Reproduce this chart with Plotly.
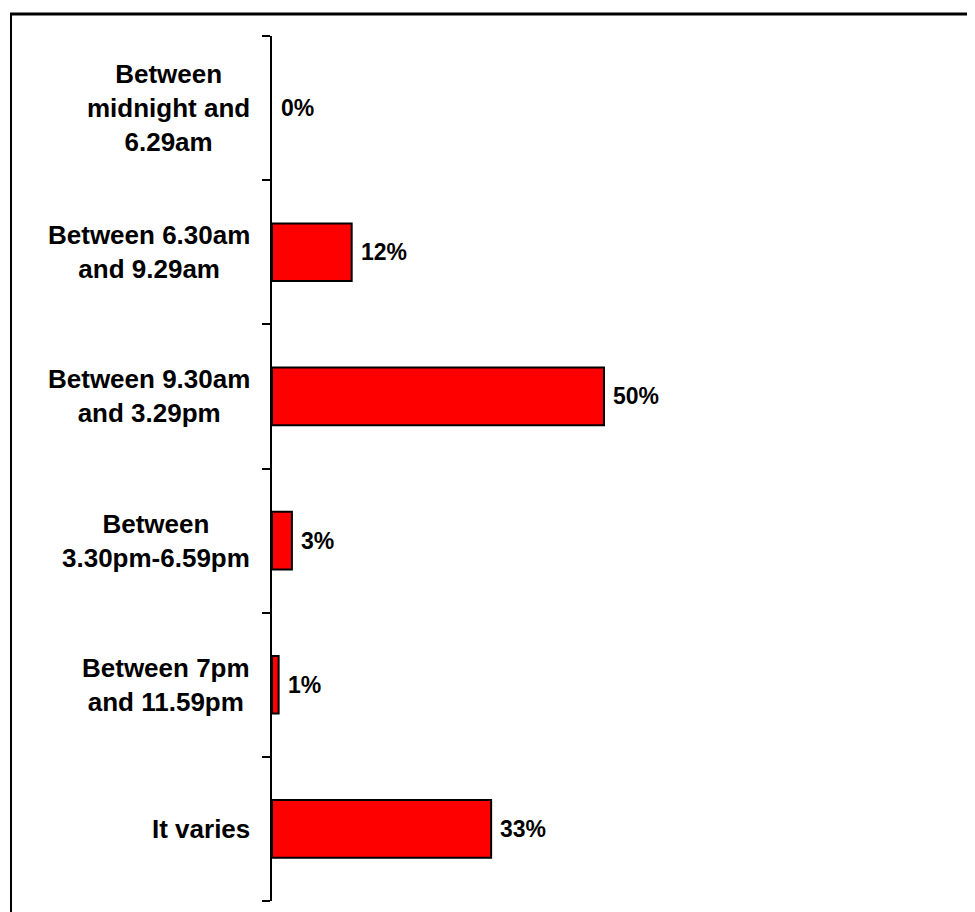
import plotly.graph_objects as go

categories = [
    "Between<br>midnight and<br>6.29am",
    "Between 6.30am<br>and 9.29am",
    "Between 9.30am<br>and 3.29pm",
    "Between<br>3.30pm-6.59pm",
    "Between 7pm<br>and 11.59pm",
    "It varies",
]
values = [0, 12, 50, 3, 1, 33]
value_labels = [f"{v}%" for v in values]

# page body has an 8px margin; positions below are in page pixels minus OFF
OFF = 8
W, H = 975 - OFF, 912 - OFF
L, R, T = 272 - OFF, 3, 36 - OFF
B = H - (901 - OFF)
pw, ph = W - L - R, H - T - B
FONT = "Liberation Sans, Arial, sans-serif"

ids = list(range(len(categories)))

fig = go.Figure()
fig.add_trace(go.Bar(
    y=ids, x=values, orientation="h", width=0.40,
    marker=dict(color="#FF0000",
                line=dict(color="black", width=[0 if v == 0 else 2 for v in values])),
    hoverinfo="skip",
))

annotations = []
for i, (c, v, t) in enumerate(zip(categories, values, value_labels)):
    annotations.append(dict(
        x=(252 - OFF - L) / pw, xref="paper", y=i, yref="y", text=c,
        xanchor="right", yanchor="middle", align="center", showarrow=False,
        font=dict(family=FONT, size=26, color="black", weight="bold"),
    ))
    annotations.append(dict(
        x=v, xref="x", y=i, yref="y", text=t,
        xanchor="left", yanchor="middle", xshift=7, showarrow=False,
        font=dict(family=FONT, size=23, color="black", weight="bold"),
    ))

def px2x(px):
    return (px - OFF - L) / pw

def py2y(py):
    return (H - B - (py - OFF)) / ph

shapes = [
    dict(type="line", xref="paper", yref="paper",
         x0=px2x(10), x1=px2x(990), y0=py2y(14), y1=py2y(14),
         line=dict(color="black", width=3)),
    dict(type="line", xref="paper", yref="paper",
         x0=px2x(11), x1=px2x(11), y0=py2y(13), y1=py2y(930),
         line=dict(color="black", width=2)),
]

fig.update_layout(
    width=W, height=H,
    margin=dict(l=L, r=R, t=T, b=B),
    paper_bgcolor="white", plot_bgcolor="white",
    showlegend=False,
    annotations=annotations,
    shapes=shapes,
    xaxis=dict(range=[0, pw / 6.64], visible=False, showgrid=False, zeroline=False),
    yaxis=dict(
        type="linear", range=[len(categories) - 0.5, -0.5],
        tickmode="array", tickvals=[i - 0.5 for i in range(len(categories) + 1)],
        showticklabels=False, ticks="outside", ticklen=8, tickwidth=2, tickcolor="black",
        showline=True, linewidth=2, linecolor="black", showgrid=False, zeroline=False,
    ),
)

fig.write_html("out.html")
